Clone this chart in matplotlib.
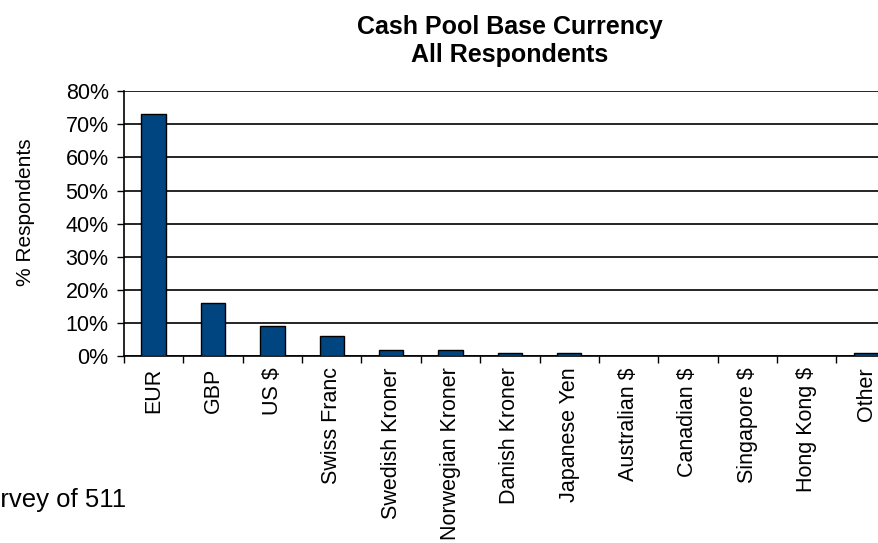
import matplotlib
matplotlib.use("Agg")
import matplotlib.pyplot as plt
from matplotlib.ticker import PercentFormatter

plt.rcParams['font.family'] = ['Liberation Sans', 'DejaVu Sans']

# share of respondents by cash pool base currency
currencies = ['EUR', 'GBP', 'US $', 'Swiss Franc', 'Swedish Kroner',
              'Norwegian Kroner', 'Danish Kroner', 'Japanese Yen',
              'Australian $', 'Canadian $', 'Singapore $', 'Hong Kong $',
              'Other']
shares = [0.73, 0.16, 0.09, 0.06, 0.02, 0.02, 0.01, 0.01,
          0.0, 0.0, 0.0, 0.0, 0.01]
y_ticks = [0.0, 0.1, 0.2, 0.3, 0.4, 0.5, 0.6, 0.7, 0.8]

fig = plt.figure(figsize=(8.79, 5.43), dpi=100)
# plot area runs slightly past the right edge of the canvas
ax = fig.add_axes([0.141, 0.344, 0.878, 0.488])

x = list(range(len(currencies)))
ax.bar(x, shares, width=0.41, color='#004480', edgecolor='black',
       linewidth=1.0, zorder=3)

ax.set_xlim(-0.5, len(currencies) - 0.5)
ax.set_ylim(0, 0.8)
ax.set_yticks(y_ticks)
ax.yaxis.set_major_formatter(PercentFormatter(1.0, decimals=0))
ax.grid(axis='y', color='black', linewidth=1.2, zorder=1)

# category boundary ticks on the x axis
ax.set_xticks([i - 0.5 for i in range(len(currencies) + 1)], minor=False)
ax.set_xticklabels([])
ax.set_xticks(x, minor=True)
ax.set_xticklabels(currencies, minor=True, rotation=90, fontsize=15.5)
ax.tick_params(axis='x', which='major', direction='out', length=5, width=1)
ax.tick_params(axis='x', which='minor', length=0, pad=8)
ax.tick_params(axis='y', direction='out', length=5, width=1,
               labelsize=15.5, pad=6)

for side in ['top', 'right']:
    ax.spines[side].set_visible(False)
ax.spines['left'].set_linewidth(1.2)
ax.spines['bottom'].set_linewidth(1.2)

ax.set_ylabel('% Respondents', fontsize=15)
ax.yaxis.set_label_coords(-0.115, 0.543)
ax.set_title('Cash Pool Base Currency\nAll Respondents', fontsize=18,
             fontweight='bold', pad=21, linespacing=1.2)

fig.text(0.1433, 0.066, 'Survey of 511', ha='right', va='baseline',
         fontsize=18.5)

fig.savefig('out.png', dpi=100)
